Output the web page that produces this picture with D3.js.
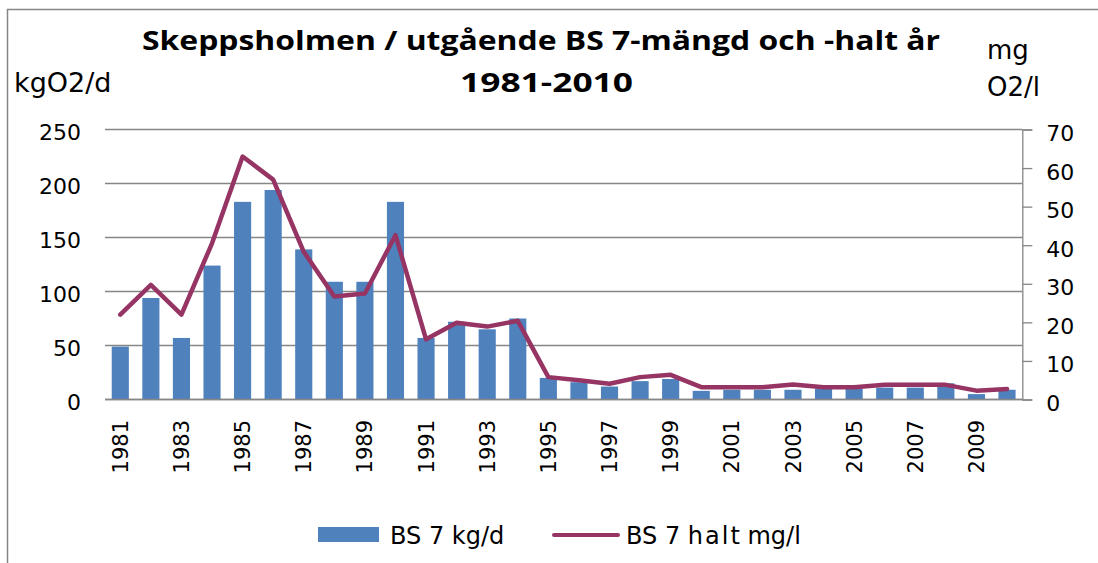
<!DOCTYPE html>
<html>
<head>
<meta charset="utf-8">
<script src="https://cdn.jsdelivr.net/npm/d3@7"></script>
<style>
html,body{margin:0;padding:0;background:#fff;}
svg{display:block;}
</style>
</head>
<body>
<svg id="chart" width="1098" height="563"></svg>
<script>
const years = [1981,1982,1983,1984,1985,1986,1987,1988,1989,1990,1991,1992,1993,1994,1995,1996,1997,1998,1999,2000,2001,2002,2003,2004,2005,2006,2007,2008,2009,2010];
const kgPerDay = [49,94,57,124,183,194,139,109,109,183,57,72,65,75,20,16,12,17,19,8,9,9,9,10,10,11,11,15,5,9];
const haltMgL = [22,29.7,22,40.5,63,57,38.3,26.7,27.5,42.6,15.6,19.9,18.9,20.4,5.8,5.0,4.1,5.8,6.4,3.2,3.2,3.2,3.9,3.2,3.2,3.8,3.8,3.8,2.3,2.7];
const leftTicks = [0,50,100,150,200,250];
const rightTicks = [0,10,20,30,40,50,60,70];
const xTickYears = [1981,1983,1985,1987,1989,1991,1993,1995,1997,1999,2001,2003,2005,2007,2009];
const titleLines = ["Skeppsholmen / utgående BS 7-mängd och -halt år","1981-2010"];
const seriesNames = ["BS 7 kg/d","BS 7 halt mg/l"];

const barColor = "#4F81BD", lineColor = "#963564", gridColor = "#868686";
const FONT = "'DejaVu Sans', Verdana, sans-serif";
const svg = d3.select("#chart");

const pLeft = 105, pRight = 1022.3, pTop = 129.5, pBottom = 399.5;
const x = d3.scaleBand().domain(years).range([pLeft, pRight]).padding(0);
const yL = d3.scaleLinear().domain([0,250]).range([pBottom, pTop]);
const yR = d3.scaleLinear().domain([0,70]).range([pBottom, pTop]);

// outer border
svg.append("path").attr("d", `M7.5,563 L7.5,9.5 L1098,9.5`).attr("fill","none").attr("stroke",gridColor).attr("stroke-width",1.5);

// gridlines
svg.append("g").selectAll("line").data(leftTicks).join("line")
  .attr("x1", pLeft).attr("x2", pRight)
  .attr("y1", d => yL(d)).attr("y2", d => yL(d))
  .attr("stroke", gridColor).attr("stroke-width", 1.3);

// left tick labels
svg.append("g").selectAll("text").data(leftTicks).join("text")
  .attr("x", 81).attr("y", d => yL(d) + 3).attr("dy","0.36em")
  .attr("text-anchor","end").attr("font-family",FONT).attr("font-size",22).attr("fill","#000")
  .text(d => d);

// right axis
const rAxis = svg.append("g").attr("transform", `translate(${pRight},0)`)
  .call(d3.axisRight(yR).tickValues(rightTicks).tickSize(10).tickPadding(14));
rAxis.select(".domain").attr("stroke",gridColor).attr("stroke-width",1.3);
rAxis.selectAll(".tick line").attr("stroke",gridColor).attr("stroke-width",1.3);
rAxis.selectAll(".tick text").attr("font-family",FONT).attr("font-size",22).attr("fill","#000").attr("dy","0.5em");

// bars
const bw = x.bandwidth() * 0.56;
svg.append("g").selectAll("rect").data(years).join("rect")
  .attr("x", (d) => x(d) + (x.bandwidth() - bw) / 2)
  .attr("width", bw)
  .attr("y", (d,i) => yL(kgPerDay[i]))
  .attr("height", (d,i) => yL(0) - yL(kgPerDay[i]))
  .attr("fill", barColor);

// baseline
svg.append("line").attr("x1",pLeft).attr("x2",pRight).attr("y1",pBottom).attr("y2",pBottom)
  .attr("stroke",gridColor).attr("stroke-width",1.3);

// line series
const line = d3.line().x((d,i) => x(years[i]) + x.bandwidth()/2).y(d => yR(d));
svg.append("path").datum(haltMgL).attr("d", line)
  .attr("fill","none").attr("stroke",lineColor).attr("stroke-width",4.5)
  .attr("stroke-linejoin","round").attr("stroke-linecap","round");

// x tick labels
svg.append("g").selectAll("text").data(xTickYears).join("text")
  .attr("transform", d => `translate(${x(d) + x.bandwidth()/2},420) rotate(-90)`)
  .attr("dy","0.36em").attr("text-anchor","end")
  .attr("font-family",FONT).attr("font-size",21).attr("fill","#000")
  .text(d => d);

// title
const titleWidths = [798, 173];
svg.append("g").selectAll("text").data(titleLines).join("text")
  .attr("x", (d,i) => i === 0 ? 142 : 460).attr("y", (d,i) => i === 0 ? 50 : 92)
  .attr("textLength", (d,i) => titleWidths[i]).attr("lengthAdjust","spacingAndGlyphs")
  .attr("font-family","'Open Sans', sans-serif")
  .attr("font-weight","bold").attr("font-size",27).attr("fill","#000")
  .text(d => d);

// axis titles
svg.append("text").attr("x",14).attr("y",92).attr("font-family",FONT).attr("font-size",27).attr("fill","#000").text("kgO2/d");
svg.append("text").attr("x",987).attr("y",59).attr("font-family",FONT).attr("font-size",26).attr("fill","#000").text("mg");
svg.append("text").attr("x",987).attr("y",96).attr("font-family",FONT).attr("font-size",26).attr("fill","#000").text("O2/l");

// legend
const lg = svg.append("g");
lg.append("rect").attr("x",318).attr("y",527).attr("width",61).attr("height",15).attr("fill",barColor);
lg.append("text").attr("x",390).attr("y",544).attr("font-family",FONT).attr("font-size",24).attr("fill","#000").text(seriesNames[0]);
lg.append("line").attr("x1",554).attr("x2",618).attr("y1",535).attr("y2",535)
  .attr("stroke",lineColor).attr("stroke-width",4).attr("stroke-linecap","round");
const t2 = lg.append("text").attr("x",626).attr("y",544).attr("font-family",FONT).attr("font-size",24).attr("fill","#000");
t2.append("tspan").text("BS 7 ");
t2.append("tspan").attr("letter-spacing","2px").text("hal");
t2.append("tspan").text("t mg/l");
</script>
</body>
</html>
